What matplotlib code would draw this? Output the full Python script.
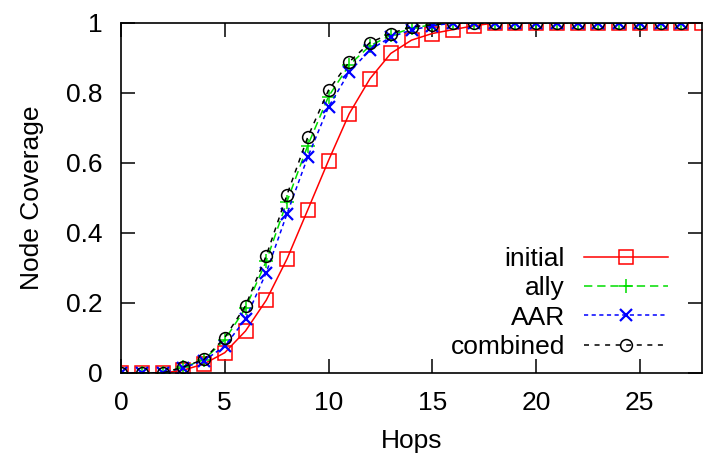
import matplotlib
matplotlib.use("Agg")
import matplotlib.pyplot as plt
from matplotlib.ticker import FuncFormatter

plt.rcParams['font.family'] = ['Liberation Sans', 'DejaVu Sans']
plt.rcParams['lines.scale_dashes'] = False

hops_initial = list(range(0, 29))
hops_other = list(range(0, 28))

initial = [0, 0, 0, 0.008, 0.026, 0.058, 0.12, 0.208, 0.326, 0.466, 0.607, 0.741,
           0.841, 0.913, 0.951, 0.970, 0.981, 0.992, 1, 1, 1, 1, 1, 1, 1, 1, 1, 1, 1]
ally = [0, 0, 0, 0.016, 0.038, 0.095, 0.185, 0.32, 0.49, 0.65, 0.79, 0.88,
        0.935, 0.965, 0.985, 0.995, 1, 1, 1, 1, 1, 1, 1, 1, 1, 1, 1, 1]
aar = [0, 0, 0, 0.015, 0.035, 0.077, 0.154, 0.287, 0.455, 0.617, 0.760, 0.860,
       0.923, 0.960, 0.980, 0.992, 1, 1, 1, 1, 1, 1, 1, 1, 1, 1, 1, 1]
combined = [0, 0, 0, 0.017, 0.039, 0.101, 0.192, 0.335, 0.509, 0.674, 0.808, 0.889,
            0.944, 0.970, 0.989, 0.995, 1, 1, 1, 1, 1, 1, 1, 1, 1, 1, 1, 1]

xticks = [0, 5, 10, 15, 20, 25]
yticks = [0, 0.2, 0.4, 0.6, 0.8, 1]

fig = plt.figure(figsize=(7.08, 4.58), dpi=100)
ax = fig.add_axes([121/708, 1 - 373/458, (702-121)/708, (373-23)/458])

lw = 1.1
ax.plot(hops_initial, initial, color='#ff0000', lw=lw, marker='s', ms=9.5,
        mfc='none', mec='#ff0000', mew=1.1, label='initial')
ax.plot(hops_other, ally, color='#00dd00', lw=lw, ls=(0, (6, 3.5)), marker='+', ms=10,
        mew=1.1, label='ally')
ax.plot(hops_other, aar, color='#0000ff', lw=lw, ls=(0, (3, 2.5)), marker='x', ms=8,
        mew=1.6, label='AAR')
ax.plot(hops_other, combined, color='black', lw=lw, ls=(0, (3.6, 4)), marker='o', ms=8.5,
        mfc='none', mew=1.1, label='combined')

ax.set_xlim(0, 28)
ax.set_ylim(0, 1)
ax.set_xticks(xticks)
ax.set_yticks(yticks)
ax.yaxis.set_major_formatter(FuncFormatter(lambda v, p: '%g' % v))
ax.tick_params(direction='in', length=10, width=1.1, top=True, right=True,
               labelsize=19, colors='black')
ax.tick_params(axis='x', pad=13)
ax.tick_params(axis='y', pad=13)
for s in ax.spines.values():
    s.set_linewidth(1.2)

ax.set_xlabel('Hops', fontsize=19, labelpad=10)
ax.set_ylabel('Node Coverage', fontsize=19, labelpad=16)

leg = ax.legend(loc='lower right', bbox_to_anchor=(0.9415, 0.04), frameon=False,
                markerfirst=False, fontsize=19, handlelength=3.2, handletextpad=0.7,
                labelspacing=0.2, borderpad=0, borderaxespad=0, numpoints=1)

fig.savefig('out.png', dpi=100)
